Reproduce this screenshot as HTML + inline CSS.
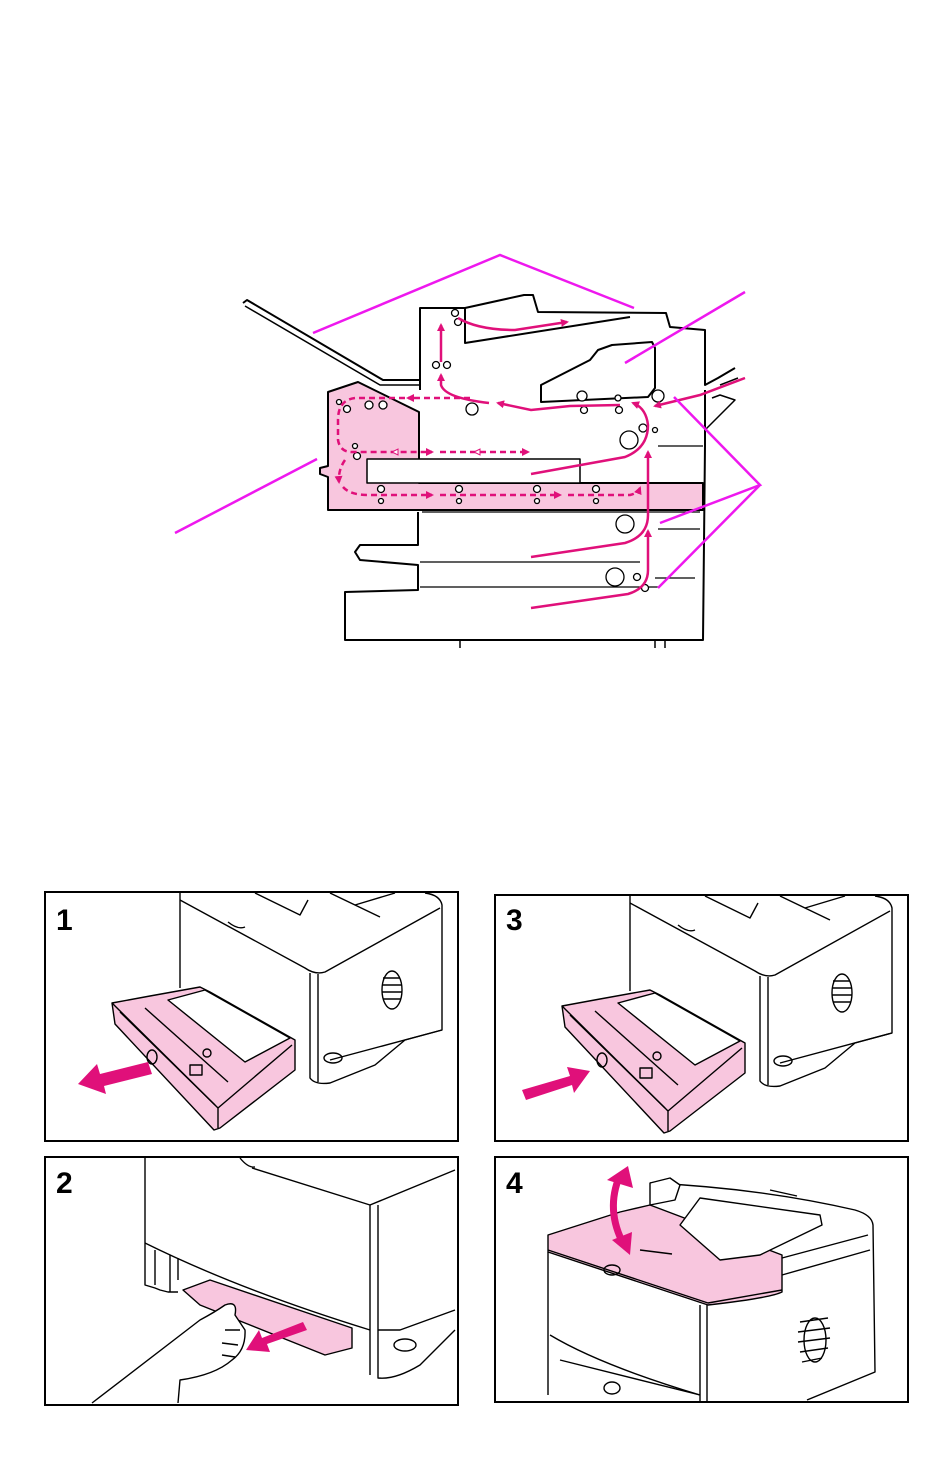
<!DOCTYPE html>
<html><head><meta charset="utf-8"><style>
html,body{margin:0;padding:0;background:#fff}
svg{display:block}
text{font-family:"Liberation Sans",Arial,sans-serif;font-weight:bold}
</style></head><body>
<svg width="950" height="1471" viewBox="0 0 950 1471" xmlns="http://www.w3.org/2000/svg">
<defs>
<marker id="ah" markerWidth="8" markerHeight="8" refX="6" refY="4" orient="auto" markerUnits="userSpaceOnUse"><path d="M0,0 L8,4 L0,8 z" fill="#e0107a"/></marker>
</defs>
<rect width="950" height="1471" fill="#fff"/>

<!-- ===== Paper path diagram ===== -->
<g fill="none" stroke="#000" stroke-width="2" stroke-linejoin="round">
  <path d="M328,392 L358,382 L419,412 L419,483 L703,483 L703,510 L419,510 L328,510 L328,477 L320,474 L320,468 L328,466 Z" fill="#f8c6de"/>
  <rect x="367" y="459" width="213" height="24" fill="#fff" stroke-width="1.5"/>
  <path d="M243,303 L247,300 L383,380 L420,380"/>
  <path d="M245,306 L380,385 L420,385" stroke-width="1.5"/>
  <path d="M420,390 L420,308 L465,308 L524,295 L533,295 L538,312 L666,313 L670,327 L705,330 L705,385 L718,378 L735,368 M705,390 L705,445"/>
  <path d="M465,308 L465,343 L630,317"/>
  <path d="M541,385 L590,360 L598,350 L612,345 L652,342 L655,348 L655,388 L648,397 L541,402 Z"/>
  <path d="M705,445 L703,640 L345,640 L345,592 L418,590 L418,565 L360,560 L355,552 L360,545 L418,545 L418,512"/>
  <path d="M712,398 L720,395 L735,400 L705,430" stroke-width="1.5"/>
  <path d="M720,385 L738,378" stroke-width="1.5"/>
  <g stroke-width="1.3">
    <line x1="422" y1="512" x2="700" y2="512"/>
    <line x1="420" y1="562" x2="640" y2="562"/>
    <line x1="420" y1="587" x2="660" y2="587"/>
    <line x1="658" y1="446" x2="703" y2="446"/>
    <line x1="658" y1="529" x2="700" y2="529"/>
    <line x1="655" y1="578" x2="695" y2="578"/>
  </g>
  <g stroke-width="1.3" fill="#fff">
    <circle cx="455" cy="313" r="3.5"/><circle cx="458" cy="322" r="3.5"/>
    <circle cx="436" cy="365" r="3.5"/><circle cx="447" cy="365" r="3.5"/>
    <circle cx="472" cy="409" r="6"/>
    <circle cx="582" cy="396" r="5"/><circle cx="584" cy="410" r="3.5"/>
    <circle cx="618" cy="398" r="3"/><circle cx="619" cy="410" r="3.5"/>
    <circle cx="658" cy="396" r="6"/>
    <circle cx="629" cy="440" r="9"/><circle cx="643" cy="428" r="4"/><circle cx="655" cy="430" r="2.5"/>
    <circle cx="625" cy="524" r="9"/>
    <circle cx="615" cy="577" r="9"/><circle cx="637" cy="577" r="3.5"/><circle cx="645" cy="588" r="3.5"/>
    <circle cx="339" cy="402" r="2.5"/><circle cx="347" cy="409" r="3.5"/><circle cx="369" cy="405" r="4"/><circle cx="383" cy="405" r="4"/>
    <circle cx="355" cy="446" r="2.5"/><circle cx="357" cy="456" r="3.5"/>
    <circle cx="381" cy="489" r="3.5"/><circle cx="381" cy="501" r="2.5"/>
    <circle cx="459" cy="489" r="3.5"/><circle cx="459" cy="501" r="2.5"/>
    <circle cx="537" cy="489" r="3.5"/><circle cx="537" cy="501" r="2.5"/>
    <circle cx="596" cy="489" r="3.5"/><circle cx="596" cy="501" r="2.5"/>
  </g>
  <path d="M460,640 L460,648 M655,640 L655,648 M665,640 L665,648" stroke-width="1.5"/>
</g>

<g fill="none" stroke="#e0107a" stroke-width="2.5" marker-end="url(#ah)">
  <path d="M489,403 Q445,398 441,385 L441,375"/>
  <path d="M441,362 L441,325"/>
  <path d="M458,318 Q478,330 515,330 L567,322"/>
  <path d="M620,405 L570,406 L531,410 L498,403"/>
  <path d="M531,474 L625,457 Q648,448 648,425 Q646,408 633,403"/>
  <path d="M745,378 L700,395 L655,406"/>
  <path d="M531,557 L625,543 Q648,536 648,515 L648,452"/>
  <path d="M531,608 L628,594 Q648,588 648,570 L648,531"/>
</g>
<g fill="none" stroke="#e0107a" stroke-width="2.5" stroke-dasharray="6,4">
  <path d="M470,398 L408,398" marker-end="url(#ah)"/>
  <path d="M405,398 L355,398 Q338,400 338,420 L338,440 Q340,452 352,452 L432,452" marker-end="url(#ah)"/>
  <path d="M440,452 L528,452" marker-end="url(#ah)"/>
  <path d="M345,460 Q338,470 339,482" marker-end="url(#ah)"/>
  <path d="M343,487 Q350,495 368,495 L432,495" marker-end="url(#ah)"/>
  <path d="M440,495 L560,495" marker-end="url(#ah)"/>
  <path d="M568,495 L630,495 Q638,493 640,488" marker-end="url(#ah)"/>
</g>
<g fill="#fff" stroke="#e0107a" stroke-width="1"><path d="M392,452 L398,449 L398,455 Z"/><path d="M474,452 L480,449 L480,455 Z"/></g>

<g stroke="#ee18ee" stroke-width="2.5" fill="none">
  <path d="M313,333 L500,255 L634,308"/>
  <path d="M745,292 L625,363"/>
  <path d="M674,397 L760,485 L660,523 M760,485 L658,588"/>
  <path d="M317,459 L175,533"/>
</g>

<!-- ===== Panels ===== -->
<g fill="none" stroke="#000" stroke-width="2">
  <rect x="45" y="892" width="413" height="249"/>
  <rect x="495" y="895" width="413" height="246"/>
  <rect x="45" y="1157" width="413" height="248"/>
  <rect x="495" y="1157" width="413" height="245"/>
</g>
<text x="56" y="930" font-size="30">1</text>
<text x="506" y="930" font-size="30">3</text>
<text x="56" y="1193" font-size="30">2</text>
<text x="506" y="1193" font-size="30">4</text>

<!-- Panel 1 / 3 printer + tray -->
<g id="p1">
<g fill="none" stroke="#000" stroke-width="1.4" stroke-linejoin="round">
  <path d="M180,893 L180,988"/>
  <path d="M180,900 L305,968 Q315,975 325,972 L440,908"/>
  <path d="M310,973 L310,1078 Q315,1085 330,1083 L375,1065 L405,1040 L442,1030 L442,905 Q440,895 425,893"/>
  <path d="M318,974 L318,1082"/>
  <path d="M255,893 L300,915 L308,900 M330,893 L380,917 M395,893 L355,905"/>
  <path d="M228,922 Q238,930 245,927"/>
  <path d="M180,998 L190,1000 M330,1060 L442,1030"/>
  <ellipse cx="333" cy="1058" rx="9" ry="5"/>
  <ellipse cx="392" cy="990" rx="10" ry="19"/>
  <path d="M383,978 L400,978 M382,985 L402,985 M382,992 L402,992 M383,999 L401,999"/>
  <path d="M112,1003 L150,996 L200,987 L210,992 L295,1040 L295,1070 L220,1128 L214,1130 L115,1024 Z" fill="#f8c6de"/>
  <path d="M168,1000 L205,990 L290,1038 L245,1062 Z" fill="#fff"/>
  <path d="M112,1003 L218,1108 L292,1045 M218,1108 L218,1128"/>
  <path d="M120,1012 L215,1105 M145,1008 L228,1082"/>
  <ellipse cx="152" cy="1057" rx="5" ry="7"/>
  <rect x="190" y="1065" width="12" height="10"/>
  <circle cx="207" cy="1053" r="4"/>
</g>
<path d="M148,1062 L100,1074 L97,1064 L78,1084 L106,1094 L104,1086 L152,1074 Z" fill="#e0107a"/>
</g>

<g transform="translate(450,3)">
<g fill="none" stroke="#000" stroke-width="1.4" stroke-linejoin="round">
  <path d="M180,893 L180,988"/>
  <path d="M180,900 L305,968 Q315,975 325,972 L440,908"/>
  <path d="M310,973 L310,1078 Q315,1085 330,1083 L375,1065 L405,1040 L442,1030 L442,905 Q440,895 425,893"/>
  <path d="M318,974 L318,1082"/>
  <path d="M255,893 L300,915 L308,900 M330,893 L380,917 M395,893 L355,905"/>
  <path d="M228,922 Q238,930 245,927"/>
  <path d="M180,998 L190,1000 M330,1060 L442,1030"/>
  <ellipse cx="333" cy="1058" rx="9" ry="5"/>
  <ellipse cx="392" cy="990" rx="10" ry="19"/>
  <path d="M383,978 L400,978 M382,985 L402,985 M382,992 L402,992 M383,999 L401,999"/>
  <path d="M112,1003 L150,996 L200,987 L210,992 L295,1040 L295,1070 L220,1128 L214,1130 L115,1024 Z" fill="#f8c6de"/>
  <path d="M168,1000 L205,990 L290,1038 L245,1062 Z" fill="#fff"/>
  <path d="M112,1003 L218,1108 L292,1045 M218,1108 L218,1128"/>
  <path d="M120,1012 L215,1105 M145,1008 L228,1082"/>
  <ellipse cx="152" cy="1057" rx="5" ry="7"/>
  <rect x="190" y="1065" width="12" height="10"/>
  <circle cx="207" cy="1053" r="4"/>
</g>
<path d="M72,1087 L120,1073 L117,1064 L140,1068 L124,1090 L122,1082 L76,1097 Z" fill="#e0107a"/>
</g>

<!-- Panel 2 -->
<g fill="none" stroke="#000" stroke-width="1.4" stroke-linejoin="round">
  <path d="M145,1158 L145,1285 L155,1288 L160,1290 L168,1292 L178,1292"/>
  <path d="M145,1243 Q240,1290 370,1330"/>
  <path d="M240,1158 Q248,1168 255,1167"/>
  <path d="M252,1168 L370,1205 L455,1170"/>
  <path d="M370,1205 L370,1375 M378,1205 L378,1378 Q395,1380 420,1365 L455,1330"/>
  <path d="M378,1330 L400,1330 L455,1310"/>
  <path d="M155,1250 L155,1285 M170,1255 L170,1292 M178,1258 L178,1280"/>
  <ellipse cx="405" cy="1345" rx="11" ry="6"/>
  <path d="M183,1290 L210,1280 L352,1328 L352,1348 L325,1355 L200,1305 Z" fill="#f8c6de"/>
  <path d="M92,1403 L200,1320 Q215,1312 225,1305 Q238,1300 235,1315 L245,1330 Q246,1350 232,1360 Q215,1375 180,1380 L178,1403" fill="#fff"/>
  <path d="M225,1330 L240,1330 M222,1343 L238,1345 M222,1355 L235,1357"/>
</g>
<path d="M303,1322 L262,1338 L259,1330 L246,1350 L270,1352 L267,1344 L307,1330 Z" fill="#e0107a"/>

<!-- Panel 4 -->
<g fill="none" stroke="#000" stroke-width="1.4" stroke-linejoin="round">
  <path d="M650,1183 Q760,1188 855,1210 Q872,1215 873,1225 L875,1372 L807,1400"/>
  <path d="M782,1258 L868,1235 M782,1275 L870,1250"/>
  <path d="M548,1252 L548,1395 M707,1305 L707,1402 M700,1305 L700,1402"/>
  <path d="M550,1335 Q600,1365 700,1395"/>
  <path d="M560,1360 L700,1395"/>
  <ellipse cx="612" cy="1388" rx="8" ry="6"/>
  <ellipse cx="815" cy="1340" rx="11" ry="22"/>
  <path d="M800,1322 L828,1318 M798,1332 L830,1328 M798,1342 L830,1338 M800,1352 L828,1348 M802,1362 L822,1358"/>
  <path d="M548,1235 L620,1212 L650,1205 L782,1255 L782,1292 Q770,1298 708,1305 L548,1252 Z" fill="#f8c6de"/>
  <path d="M548,1250 L708,1303 L782,1290"/>
  <path d="M700,1198 L820,1215 L822,1225 L760,1255 L720,1260 L680,1225 Z" fill="#fff"/>
  <path d="M650,1183 L670,1178 L680,1185 L675,1200 L650,1205 Z" fill="#fff"/>
  <ellipse cx="612" cy="1270" rx="8" ry="5"/>
  <path d="M640,1250 L672,1254"/>
  <path d="M770,1190 L797,1196"/>
</g>
<path d="M620,1175 Q605,1210 624,1245" fill="none" stroke="#e0107a" stroke-width="7"/>
<path d="M607,1180 L628,1166 L633,1188 Z M612,1240 L630,1255 L632,1232 Z" fill="#e0107a"/>
</svg>
</body></html>
